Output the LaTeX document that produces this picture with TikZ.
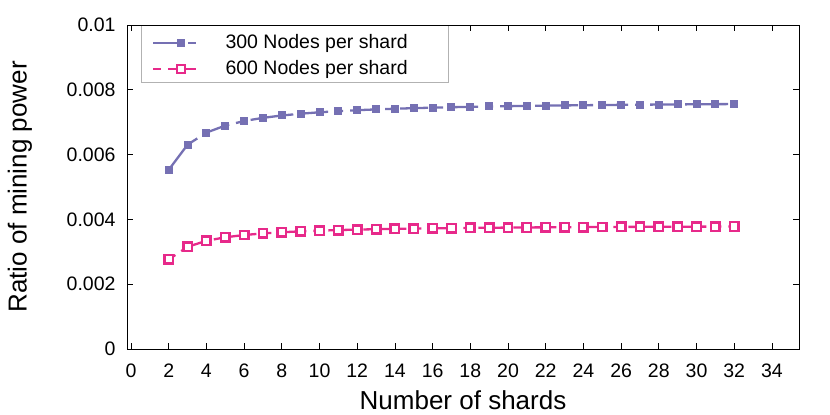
\documentclass[tikz,border=0pt]{standalone}
\usepackage{fontspec}
\setmainfont{Liberation Sans}
\begin{document}
\begin{tikzpicture}[x=1pt,y=-1pt,
  tick/.style={line width=0.7pt},
  tlab/.style={font=\fontsize{19.5}{19.5}\selectfont},
  c1/.style={color={rgb,255:red,117;green,112;blue,179},line width=2.3pt,dash pattern=on 28pt off 7pt on 8pt off 7pt},
  c2/.style={color={rgb,255:red,231;green,41;blue,138},line width=2.3pt,dash pattern=on 8pt off 7pt on 28pt off 7pt},
  m1/.style={fill={rgb,255:red,117;green,112;blue,179},draw=none,minimum size=8pt,inner sep=0pt},
  m2/.style={draw={rgb,255:red,231;green,41;blue,138},line width=2.4pt,fill=white,minimum size=8.5pt,inner sep=0pt}]
\useasboundingbox (0,0) rectangle (830,415);
\def\X#1{131+18.85*#1}
\def\Y#1{349-32.4*#1}
% ticks
\foreach \i in {0,2,...,34}{
  \draw[tick] ({\X{\i}},349) -- ++(0,-6);
  \draw[tick] ({\X{\i}},25) -- ++(0,6);
  \node[tlab] (xt\i) at ({\X{\i}},371) {\i};}
\foreach \v/\l in {0/0,2/0.002,4/0.004,6/0.006,8/0.008,10/0.01}{
  \draw[tick] (127,{\Y{\v}}) -- ++(6,0);
  \draw[tick] (799,{\Y{\v}}) -- ++(-6,0);
  \node[tlab,anchor=east] (yt\v) at (119,{\Y{\v}}) {\l};}
\node[font=\fontsize{26}{26}\selectfont] (xl) at (463,400) {Number of shards};
\node[font=\fontsize{26}{26}\selectfont,rotate=90] (yl) at (20,187) {Ratio of mining power};
% curves
\draw[c1] plot[domain=2:32,samples=31] ({\X{\x}},{\Y{(7.654-4.631*pow(\x,-1.124))}});
\draw[c2] plot[domain=2:32,samples=31] ({\X{\x}},{\Y{(7.654-4.631*pow(\x,-1.124))/2}});
\foreach \n in {2,...,32}{
  \node[m1] (a\n) at ({\X{\n}},{\Y{(7.654-4.631*pow(\n,-1.124))}}) {};
  \node[m2] (b\n) at ({\X{\n}},{\Y{(7.654-4.631*pow(\n,-1.124))/2}}) {};}
% legend
\fill[white] (141,25) rectangle (448,82);
\draw[gray!60,line width=0.5pt] (141,25) rectangle (448,82);
\draw[c1] (153,43) -- (203,43);
\node[m1] (la) at (181,43) {};
\draw[c2] (153,69) -- (203,69);
\node[m2] (lb) at (181,69) {};
\node[tlab,anchor=west] (lt1) at (222,43) {300 Nodes per shard};
\node[tlab,anchor=west] (lt2) at (222,69) {600 Nodes per shard};
\draw[line width=0.8pt] (127,25) rectangle (799,349);
\end{tikzpicture}
\end{document}
